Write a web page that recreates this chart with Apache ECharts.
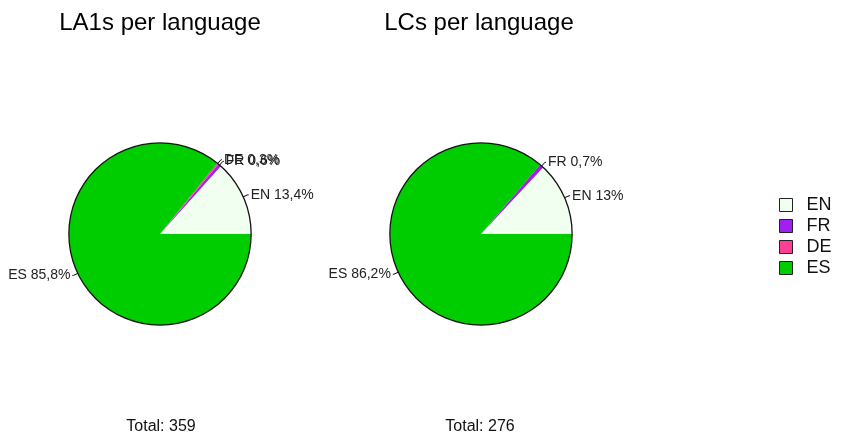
<!DOCTYPE html>
<html>
<head>
<meta charset="utf-8">
<script src="https://cdn.jsdelivr.net/npm/echarts@6/dist/echarts.min.js"></script>
<style>
  html, body { margin: 0; padding: 0; background: #fff; }
  #chart { width: 847px; height: 447px; }
</style>
</head>
<body>
<div id="chart"></div>
<script>
const languages = ['EN', 'FR', 'DE', 'ES']
const colors = ['#F0FFF0', '#A020F0', '#FF3E96', '#00CD00']
const la1Counts = [48, 2, 1, 308]
const lcCounts = [36, 2, 0, 238]
const titles = ['LA1s per language', 'LCs per language']

const font = 'Liberation Sans, Arial, sans-serif'
const narrow = 'Liberation Sans Narrow, Liberation Sans, Arial, sans-serif'

function pct(v, total) {
  return String(Math.round((v / total) * 1000) / 10).replace('.', ',') + '%'
}

function sum(arr) {
  return arr.reduce((a, b) => a + b, 0)
}

function pieData(counts) {
  const total = sum(counts)
  return languages.map((lang, i) => ({
    name: lang,
    value: counts[i],
    itemStyle: { color: colors[i] },
    label: { show: counts[i] > 0, formatter: lang + ' ' + pct(counts[i], total) },
    labelLine: { show: counts[i] > 0 },
  }))
}

const centers = [[160, 234], [481, 234]]
const R = 91

const series = []
;[la1Counts, lcCounts].forEach((counts, k) => {
  series.push({
    type: 'pie',
    center: centers[k],
    radius: R,
    startAngle: 0,
    clockwise: false,
    avoidLabelOverlap: false,
    labelLayout: { hideOverlap: false },
    animation: false,
    emphasis: { disabled: true },
    itemStyle: { borderWidth: 0 },
    label: {
      position: 'outside',
      fontFamily: font,
      fontSize: 14,
      color: '#222',
      distanceToLabelLine: 2,
    },
    labelLine: { length: 5, length2: 1, lineStyle: { color: '#000', width: 1 } },
    data: pieData(counts),
  })
  // outer outline
  series.push({
    type: 'pie',
    center: centers[k],
    radius: [R - 0.5, R + 0.8],
    silent: true,
    animation: false,
    label: { show: false },
    labelLine: { show: false },
    itemStyle: { color: '#111' },
    data: [{ name: 'outline', value: 1 }],
  })
})

const titleStyle = { fontFamily: font, fontSize: 24, fontWeight: 'normal', color: '#000' }
const totalStyle = { fontFamily: narrow, fontSize: 16, fontWeight: 'normal', color: '#111' }

const chart = echarts.init(document.getElementById('chart'))
chart.setOption({
  backgroundColor: '#fff',
  title: [
    { text: titles[0], left: 155, top: 6, textAlign: 'center', textStyle: titleStyle },
    { text: titles[1], left: 474, top: 6, textAlign: 'center', textStyle: titleStyle },
    { text: 'Total: ' + sum(la1Counts), left: 156, top: 414, textAlign: 'center', textStyle: totalStyle },
    { text: 'Total: ' + sum(lcCounts), left: 475, top: 414, textAlign: 'center', textStyle: totalStyle },
  ],
  legend: {
    data: languages,
    orient: 'vertical',
    left: 774,
    top: 191,
    itemWidth: 13,
    itemHeight: 13,
    itemGap: 3,
    icon: 'rect',
    selectedMode: false,
    itemStyle: { borderColor: '#222', borderWidth: 1 },
    textStyle: { fontFamily: narrow, fontSize: 18, lineHeight: 17, color: '#111', padding: [0, 0, 0, 9] },
  },
  series: series,
})
</script>
</body>
</html>
